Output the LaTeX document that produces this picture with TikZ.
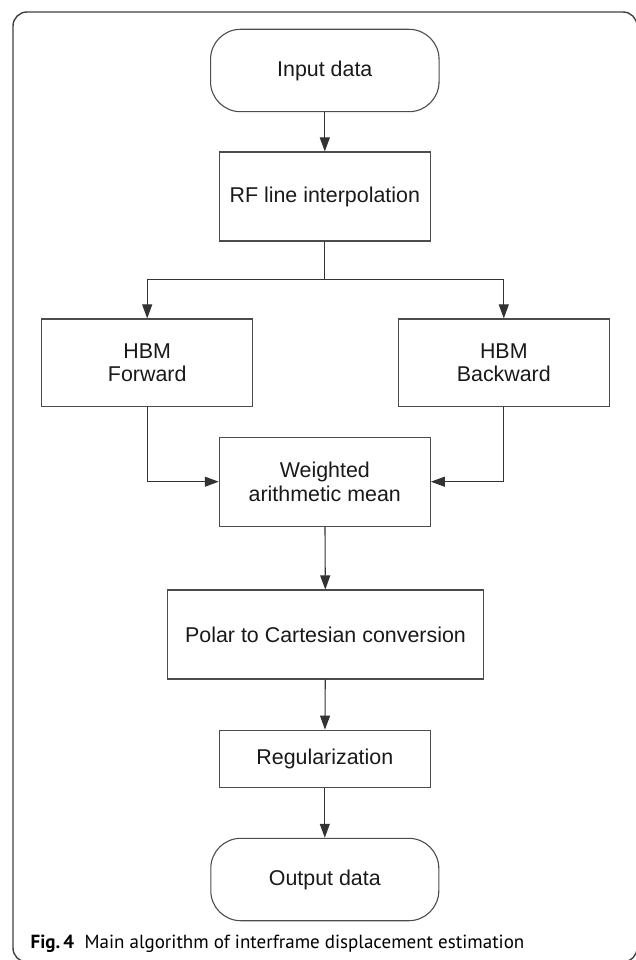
\documentclass[tikz,border=0pt]{standalone}
\usepackage{fontspec}
\setmainfont{Liberation Sans}
\newfontfamily\capfont{PT Sans}
\usetikzlibrary{arrows.meta}
\begin{document}
\begin{tikzpicture}[x=1pt,y=-1pt,
  box/.style={draw=black!70, line width=1.1pt, rectangle, inner sep=0pt, align=center,
    font=\fontsize{21.4}{23.5}\selectfont, text=black!90},
  term/.style={box, rounded corners=30pt},
  conn/.style={draw=black!80, line width=1.1pt},
  arr/.style={conn, -{Triangle[length=14pt,width=10pt]}}]
\useasboundingbox (0,0) rectangle (635,960);
\draw[black!75, line width=1.4pt, rounded corners=14pt] (13,12) rectangle (637,962);
\node[term, minimum width=228.5pt, minimum height=82.4pt] (in) at (324.8,70.5) {Input data};
\node[box, minimum width=210.5pt, minimum height=89pt] (rf) at (324.8,196.5) {RF line interpolation};
\node[box, minimum width=211pt, minimum height=87.7pt] (fw) at (147.2,362.8) {HBM\\Forward};
\node[box, minimum width=211pt, minimum height=87.7pt] (bw) at (503.8,362.8) {HBM\\Backward};
\node[box, minimum width=211pt, minimum height=88.7pt] (wm) at (324.8,481.7) {Weighted\\arithmetic mean};
\node[box, minimum width=316.6pt, minimum height=89pt] (pc) at (325.5,634.5) {Polar to Cartesian conversion};
\node[box, minimum width=211pt, minimum height=57.7pt] (rg) at (324.8,759) {Regularization};
\node[term, minimum width=228pt, minimum height=82.4pt] (out) at (324.8,879.5) {Output data};
\coordinate (split) at (324.8,279.3);
\draw[arr] (in) -- (rf);
\draw[conn] (rf.south) -- (split);
\draw[arr] (split) -| (fw.north);
\draw[arr] (split) -| (bw.north);
\draw[arr] (fw.south) |- (wm.west);
\draw[arr] (bw.south) |- (wm.east);
\draw[arr] (wm) -- (pc);
\draw[arr] (pc) -- (rg);
\draw[arr] (rg) -- (out);
\node[anchor=base west, inner sep=0pt, font=\capfont\fontsize{19}{20}\selectfont] (cap) at (30.4,948)
  {\textbf{Fig.\,4}\hspace{0.55em}Main algorithm of interframe displacement estimation};
\end{tikzpicture}
\end{document}
